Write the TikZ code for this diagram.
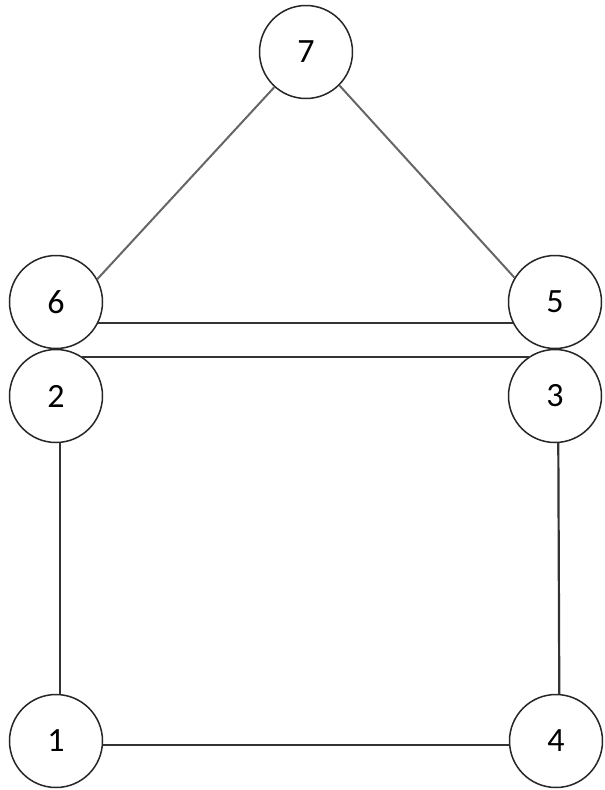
\documentclass[tikz,border=0pt]{standalone}
\usepackage{fontspec}
\setmainfont{Carlito}
\begin{document}
\begin{tikzpicture}[x=1pt,y=-1pt,
  vtx/.style={circle,draw=black!85,line width=1.5pt,minimum size=93pt,inner sep=0pt,font=\fontsize{34}{34}\selectfont,fill=white},
  edge/.style={draw=black!80,line width=2.2pt},
  roof/.style={draw=black!60,line width=2pt}]
\useasboundingbox (0,0) rectangle (605,790);
\node[vtx] (n7) at (306,52) {7};
\node[vtx] (n6) at (56,302) {6};
\node[vtx] (n5) at (555,302) {5};
\node[vtx] (n2) at (56,396) {2};
\node[vtx] (n3) at (555,396) {3};
\node[vtx] (n1) at (56,741) {1};
\node[vtx] (n4) at (556,741) {4};
\draw[roof] (n7.-132) -- (n6.29);
\draw[roof] (n7.-45) -- (n5.149);
\draw[edge] (n6.-26.5) -- (n5.206.5);
\draw[edge] (n2.56) -- (n3.124);
\draw[edge] (n2.-85) -- (n1.85);
\draw[edge] (n3.-86) -- (n4.86);
\draw[edge] (n1.-5) -- (n4.185);
\end{tikzpicture}
\end{document}
